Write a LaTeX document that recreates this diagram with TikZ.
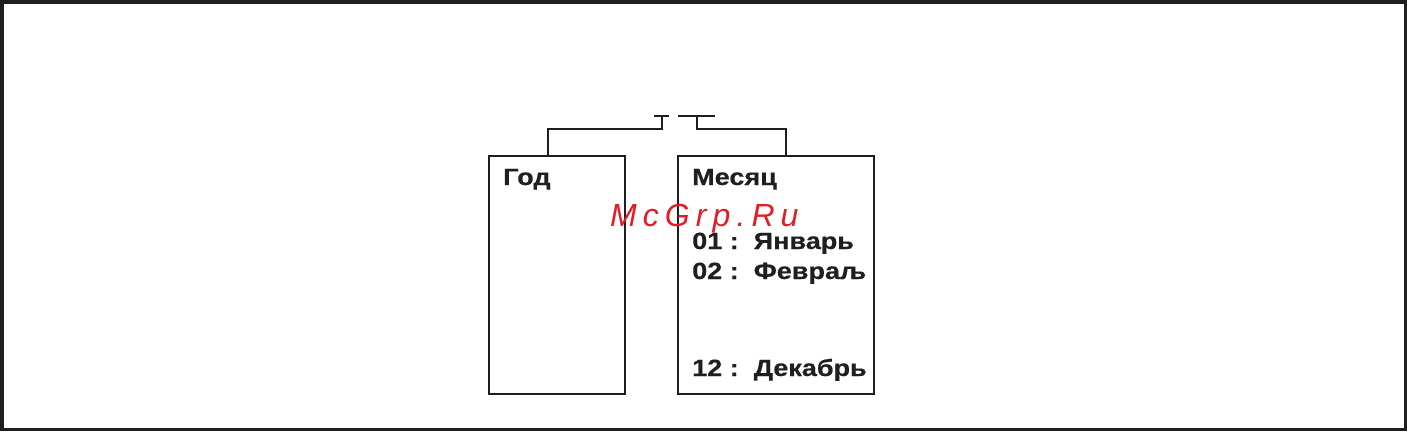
\documentclass[tikz,border=0pt]{standalone}
\usepackage{fontspec}
\setmainfont{Liberation Sans}
\newfontfamily\boxfont[FakeStretch=1.15,FakeBold=0.4]{Liberation Sans Bold}
\newfontfamily\wmfont[LetterSpace=19]{Liberation Sans}
\definecolor{wmred}{RGB}{225,30,36}
\begin{document}
\begin{tikzpicture}[x=1pt,y=-1pt,
  box/.style={draw=black!88,line width=1.6pt,minimum width=136pt,minimum height=238pt,inner sep=0pt,anchor=north west},
  lbl/.style={font=\boxfont\fontsize{23.5}{23.5}\selectfont,text=black!88,anchor=base west,inner sep=0pt},
  wire/.style={draw=black!88,line width=1.6pt}]
\useasboundingbox (0,0) rectangle (1407,431);
\draw[black!88,line width=3.5pt] (1.75,1.75) rectangle (1405.25,429.25);
\node[box] (god) at (488,155) {};
\node[box,minimum width=196pt] (mes) at (677,155) {};
\node[lbl] (tgod) at (503,185) {Год};
\node[lbl] (tmes) at (692,185) {Месяц};
\node[lbl] (t1) at (692,249) {01 :\ \ Январь};
\node[lbl] (t2) at (692,279) {02 :\ \ Февраљ};
\node[lbl] (t12) at (692,376) {12 :\ \ Декабрь};
\coordinate (la) at (548,129);
\coordinate (lb) at (662,129);
\coordinate (lt) at (662,116);
\coordinate (lt1) at (654,116);
\coordinate (lt2) at (669,116);
\coordinate (rt1) at (678,116);
\coordinate (rt2) at (715,116);
\coordinate (rt) at (697,116);
\coordinate (rb) at (697,129);
\coordinate (ra) at (786,129);
\draw[wire] (god.north -| la) -- (la) -- (lb) -- (lt);
\draw[wire] (lt1) -- (lt2);
\draw[wire] (rt1) -- (rt2);
\draw[wire] (rt) -- (rb) -- (ra) -- (mes.north -| ra);
\node[font=\wmfont\itshape\fontsize{32}{32}\selectfont,text=wmred,anchor=base west,inner sep=0pt] (wm) at (610,226) {McGrp.Ru};
\end{tikzpicture}
\end{document}
